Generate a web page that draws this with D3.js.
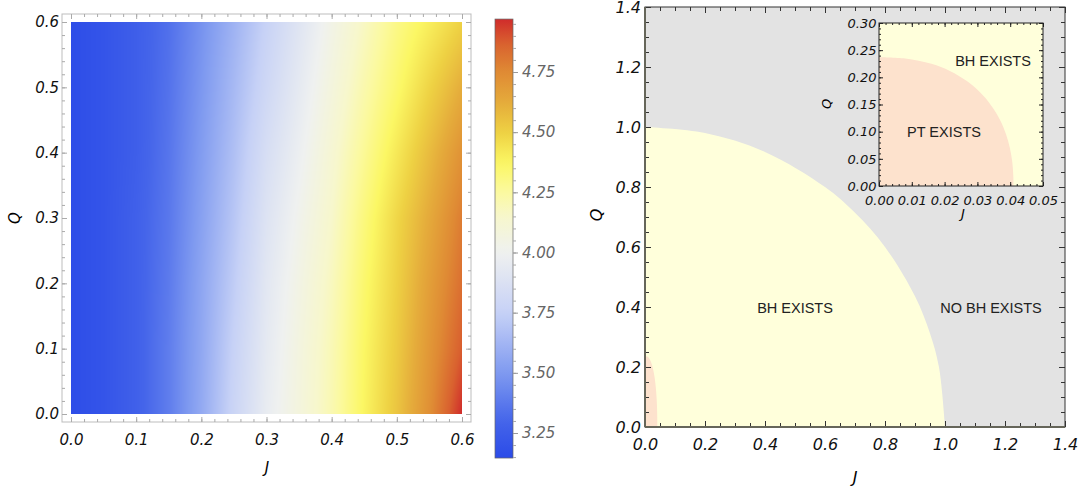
<!DOCTYPE html>
<meta charset="utf-8">
<html>
<head>
<style>
body {
  margin: 0;
  background: #fff;
}
text {
  font-family: "Liberation Sans", Arial, Helvetica, sans-serif;
}
.tick text, .axlab {
  font-family: "DejaVu Sans", sans-serif;
  font-style: oblique;
}
</style>
</head>
<body>
<div id="chart"></div>
<script src="https://d3js.org/d3.v7.min.js"></script>
<script>

// ---- data ----

// left density plot: grid of J columns and Q rows
var jGrid = [0, 0.05, 0.1, 0.15, 0.2, 0.25, 0.3, 0.35, 0.4, 0.45, 0.5, 0.55, 0.6];
var qGrid = [0, 0.1, 0.2, 0.3, 0.4, 0.5, 0.6];
var zQ00 = [3.16, 3.20, 3.27, 3.39, 3.57, 3.78, 3.96, 4.08, 4.21, 4.38, 4.54, 4.73, 4.97];
var zQ01 = [3.16, 3.20, 3.27, 3.39, 3.56, 3.76, 3.94, 4.07, 4.20, 4.37, 4.52, 4.70, 4.88];
var zQ02 = [3.16, 3.20, 3.27, 3.38, 3.55, 3.73, 3.92, 4.05, 4.18, 4.35, 4.50, 4.67, 4.83];
var zQ03 = [3.16, 3.20, 3.27, 3.37, 3.53, 3.70, 3.89, 4.02, 4.15, 4.32, 4.48, 4.63, 4.79];
var zQ04 = [3.16, 3.20, 3.26, 3.36, 3.51, 3.67, 3.85, 3.98, 4.12, 4.27, 4.42, 4.57, 4.72];
var zQ05 = [3.16, 3.20, 3.26, 3.35, 3.49, 3.64, 3.80, 3.94, 4.08, 4.22, 4.35, 4.49, 4.62];
var zQ06 = [3.16, 3.20, 3.26, 3.34, 3.47, 3.61, 3.76, 3.90, 4.04, 4.17, 4.30, 4.40, 4.50];
var zRows = [zQ00, zQ01, zQ02, zQ03, zQ04, zQ05, zQ06];

// colour bar range and labels
var zMin = 3.146, zMax = 4.97;
var cbarTicks = [3.25, 3.5, 3.75, 4.0, 4.25, 4.5, 4.75];

// temperature-map palette
var paletteVals = [3.146, 3.3, 3.5, 3.75, 4.0, 4.15, 4.25, 4.37, 4.5, 4.62, 4.75, 4.87, 4.97];
var paletteCols = ["#2b4be8", "#4565ea", "#7f9af0", "#c6d1f6", "#eff1f0", "#f7f7cc", "#fbf9a0",
                   "#fbf764", "#eed143", "#e5ac3b", "#df8a34", "#d9612f", "#d02b2b"];

// right region plot: boundaries
var bhJ = [0, 0.2, 0.4, 0.6, 0.7, 0.8, 0.9, 0.95, 0.98, 1.0];
var bhQ = [1.0, 0.98, 0.917, 0.8, 0.714, 0.6, 0.436, 0.312, 0.199, 0];
var ptJ = [0, 0.008, 0.016, 0.0216, 0.027, 0.0318, 0.0348, 0.0369, 0.0387, 0.0399, 0.0406, 0.04095, 0.041];
var ptQ = [0.237, 0.2346, 0.2248, 0.2117, 0.1922, 0.1663, 0.1432, 0.1215, 0.0958, 0.070, 0.0454, 0.0184, 0];

// tick labels
var leftTicks = [0, 0.1, 0.2, 0.3, 0.4, 0.5, 0.6];
var mainTicks = [0, 0.2, 0.4, 0.6, 0.8, 1.0, 1.2, 1.4];
var insetJTicks = [0, 0.01, 0.02, 0.03, 0.04, 0.05];
var insetQTicks = [0, 0.05, 0.1, 0.15, 0.2, 0.25, 0.3];

// ---- svg ----
var svg = d3.select("#chart").append("svg")
    .attr("width", 1087)
    .attr("height", 490);

function minorRange(a, b, step) {
  return d3.range(a, b + step / 2, step).map(function(d) { return +d.toFixed(4); });
}

// draws inward ticks on one side, returns the group holding the labels
function ticks(axisFn, scale, pos, majors, minors, majLen, minLen, color, fmt, pad) {
  var g = svg.append("g").attr("transform", pos);
  g.call(axisFn(scale).tickValues(minors).tickSize(-minLen).tickFormat(""));
  g.select(".domain").remove();
  var g2 = svg.append("g").attr("transform", pos);
  g2.call(axisFn(scale).tickValues(majors).tickSize(-majLen)
      .tickPadding(pad || 3).tickFormat(fmt || ""));
  g2.select(".domain").remove();
  g.selectAll(".tick line").attr("stroke", color);
  g2.selectAll(".tick line").attr("stroke", color);
  return g2;
}

// ===== left density plot =====
var xL = d3.scaleLinear().domain([0, 0.6]).range([71, 462]);
var yL = d3.scaleLinear().domain([0, 0.6]).range([414, 22]);

var color = d3.scaleLinear().domain(paletteVals).range(paletteCols)
    .interpolate(d3.interpolateRgb).clamp(true);

function zAt(j, q) {
  var i = Math.max(0, Math.min(jGrid.length - 2, d3.bisectRight(jGrid, j) - 1));
  var k = Math.max(0, Math.min(qGrid.length - 2, d3.bisectRight(qGrid, q) - 1));
  var tj = (j - jGrid[i]) / (jGrid[i + 1] - jGrid[i]);
  var tq = (q - qGrid[k]) / (qGrid[k + 1] - qGrid[k]);
  var a = zRows[k][i] * (1 - tj) + zRows[k][i + 1] * tj;
  var b = zRows[k + 1][i] * (1 - tj) + zRows[k + 1][i + 1] * tj;
  return a * (1 - tq) + b * tq;
}

var cw = Math.round(xL(0.6) - xL(0)), ch = Math.round(yL(0) - yL(0.6));
var canvas = document.createElement("canvas");
canvas.width = cw; canvas.height = ch;
var ctx = canvas.getContext("2d");
var img = ctx.createImageData(cw, ch);
for (var py = 0; py < ch; py++) {
  var q = yL.invert(yL(0.6) + py + 0.5);
  for (var px = 0; px < cw; px++) {
    var j = xL.invert(xL(0) + px + 0.5);
    var c = d3.rgb(color(zAt(j, q)));
    var o = (py * cw + px) * 4;
    img.data[o] = c.r; img.data[o + 1] = c.g; img.data[o + 2] = c.b; img.data[o + 3] = 255;
  }
}
ctx.putImageData(img, 0, 0);

svg.append("image")
    .attr("x", xL(0)).attr("y", yL(0.6))
    .attr("width", cw).attr("height", ch)
    .attr("preserveAspectRatio", "none")
    .attr("href", canvas.toDataURL());

// frame
svg.append("rect")
    .attr("x", 62).attr("y", 14).attr("width", 409).attr("height", 408)
    .attr("fill", "none").attr("stroke", "#bdbdbd").attr("stroke-width", 1);

var fmt1 = d3.format(".1f");
var leftMinor = minorRange(0, 0.6, 0.02);
var lb = ticks(d3.axisBottom, xL, "translate(0,422)", leftTicks, leftMinor, 5, 3, "#aaa", fmt1, 12);
ticks(d3.axisTop, xL, "translate(0,14)", leftTicks, leftMinor, 5, 3, "#aaa");
var ll = ticks(d3.axisLeft, yL, "translate(62,0)", leftTicks, leftMinor, 5, 3, "#aaa", fmt1, 3);
ticks(d3.axisRight, yL, "translate(471,0)", leftTicks, leftMinor, 5, 3, "#aaa");
lb.selectAll("text").attr("fill", "#111").style("font-size", "15px");
ll.selectAll("text").attr("fill", "#111").style("font-size", "15px");

svg.append("text").attr("class", "axlab").attr("x", 267).attr("y", 473)
    .attr("text-anchor", "middle").style("font-size", "15px")
    .text("J");
svg.append("text").attr("class", "axlab").attr("transform", "translate(20,218) rotate(-90)")
    .attr("text-anchor", "middle").style("font-size", "15px")
    .text("Q");

// ===== colour bar =====
var yC = d3.scaleLinear().domain([3.25, 4.75]).range([433, 72]);
var grad = svg.append("defs").append("linearGradient")
    .attr("id", "cbar").attr("x1", 0).attr("y1", 1).attr("x2", 0).attr("y2", 0);
grad.selectAll("stop")
    .data(d3.range(0, 1.0001, 0.02))
    .enter().append("stop")
    .attr("offset", function(d) { return d; })
    .attr("stop-color", function(d) { return color(zMin + d * (zMax - zMin)); });

svg.append("rect")
    .attr("x", 495).attr("y", yC(zMax))
    .attr("width", 18).attr("height", yC(zMin) - yC(zMax))
    .attr("fill", "url(#cbar)").attr("stroke", "#666").attr("stroke-width", 0.7);

var gc = svg.append("g").attr("transform", "translate(513,0)");
gc.call(d3.axisRight(yC).tickValues(minorRange(3.15, 4.95, 0.05)).tickSize(3).tickFormat(""));
gc.select(".domain").remove();
var gc2 = svg.append("g").attr("transform", "translate(513,0)");
gc2.call(d3.axisRight(yC).tickValues(cbarTicks).tickSize(5).tickPadding(4).tickFormat(d3.format(".2f")));
gc2.select(".domain").remove();
gc.selectAll("line").attr("stroke", "#aaa");
gc2.selectAll("line").attr("stroke", "#999");
gc2.selectAll("text").attr("fill", "#666").style("font-size", "15px");

// ===== right region plot =====
var xR = d3.scaleLinear().domain([0, 1.4]).range([645, 1065]);
var yR = d3.scaleLinear().domain([0, 1.4]).range([427, 7]);

svg.append("rect")
    .attr("x", xR(0)).attr("y", yR(1.4))
    .attr("width", xR(1.4) - xR(0)).attr("height", yR(0) - yR(1.4))
    .attr("fill", "#e3e3e3");

function regionPath(xs, ys, js, qs) {
  var pts = js.map(function(d, i) { return [xs(d), ys(qs[i])]; });
  var line = d3.line().curve(d3.curveCatmullRom.alpha(0.5));
  return line(pts) + "L" + xs(0) + "," + ys(0) + "Z";
}

svg.append("path").attr("d", regionPath(xR, yR, bhJ, bhQ)).attr("fill", "#ffffdb");
svg.append("path").attr("d", regionPath(xR, yR, ptJ, ptQ)).attr("fill", "#fde2cd");

svg.append("text").attr("x", 795).attr("y", 313).attr("text-anchor", "middle")
    .attr("fill", "#222").style("font-size", "14.5px").text("BH EXISTS");
svg.append("text").attr("x", 991).attr("y", 313).attr("text-anchor", "middle")
    .attr("fill", "#222").style("font-size", "14.5px").text("NO BH EXISTS");

svg.append("rect")
    .attr("x", xR(0)).attr("y", yR(1.4))
    .attr("width", xR(1.4) - xR(0)).attr("height", yR(0) - yR(1.4))
    .attr("fill", "none").attr("stroke", "#333").attr("stroke-width", 1);

var mainMinor = minorRange(0, 1.4, 0.05);
var rb = ticks(d3.axisBottom, xR, "translate(0,427)", mainTicks, mainMinor, 6, 4, "#333", fmt1, 12);
ticks(d3.axisTop, xR, "translate(0,7)", mainTicks, mainMinor, 6, 4, "#333");
var rl = ticks(d3.axisLeft, yR, "translate(645,0)", mainTicks, mainMinor, 6, 4, "#333", fmt1, 4);
ticks(d3.axisRight, yR, "translate(1065,0)", mainTicks, mainMinor, 6, 4, "#333");
rb.selectAll("text").attr("fill", "#111").style("font-size", "16px");
rl.selectAll("text").attr("fill", "#111").style("font-size", "16px");

svg.append("line").attr("x1", xR(0)).attr("x2", xR(0)).attr("y1", yR(1.4)).attr("y2", yR(0))
    .attr("stroke", "#66665a").attr("stroke-width", 2);
svg.append("line").attr("x1", xR(0)).attr("x2", xR(1.4)).attr("y1", yR(0)).attr("y2", yR(0))
    .attr("stroke", "#66665a").attr("stroke-width", 2);

svg.append("text").attr("class", "axlab").attr("x", 855).attr("y", 483)
    .attr("text-anchor", "middle").style("font-size", "16px")
    .text("J");
svg.append("text").attr("class", "axlab").attr("transform", "translate(602,215) rotate(-90)")
    .attr("text-anchor", "middle").style("font-size", "16px")
    .text("Q");

// ===== inset =====
var xI = d3.scaleLinear().domain([0, 0.05]).range([879, 1043]);
var yI = d3.scaleLinear().domain([0, 0.3]).range([186, 23]);

svg.append("rect")
    .attr("x", xI(0)).attr("y", yI(0.3))
    .attr("width", xI(0.05) - xI(0)).attr("height", yI(0) - yI(0.3))
    .attr("fill", "#ffffdb");
svg.append("path").attr("d", regionPath(xI, yI, ptJ, ptQ)).attr("fill", "#fde2cd");

svg.append("text").attr("x", 993).attr("y", 66).attr("text-anchor", "middle")
    .attr("fill", "#222").style("font-size", "14.5px").text("BH EXISTS");
svg.append("text").attr("x", 944).attr("y", 137).attr("text-anchor", "middle")
    .attr("fill", "#222").style("font-size", "14.5px").text("PT EXISTS");

svg.append("rect")
    .attr("x", xI(0)).attr("y", yI(0.3))
    .attr("width", xI(0.05) - xI(0)).attr("height", yI(0) - yI(0.3))
    .attr("fill", "none").attr("stroke", "#222").attr("stroke-width", 1);

var fmt2 = d3.format(".2f");
var ib = ticks(d3.axisBottom, xI, "translate(0,186)", insetJTicks, minorRange(0, 0.05, 0.002), 4, 2, "#222", fmt2, 10);
ticks(d3.axisTop, xI, "translate(0,23)", insetJTicks, minorRange(0, 0.05, 0.002), 4, 2, "#222");
var il = ticks(d3.axisLeft, yI, "translate(879,0)", insetQTicks, minorRange(0, 0.3, 0.01), 4, 2, "#222", fmt2, 2.5);
ticks(d3.axisRight, yI, "translate(1043,0)", insetQTicks, minorRange(0, 0.3, 0.01), 4, 2, "#222");
ib.selectAll("text").attr("fill", "#111").style("font-size", "13px");
il.selectAll("text").attr("fill", "#111").style("font-size", "13px");

svg.append("text").attr("class", "axlab").attr("x", 963).attr("y", 218)
    .attr("text-anchor", "middle").style("font-size", "13px")
    .text("J");
svg.append("text").attr("class", "axlab").attr("transform", "translate(831,104) rotate(-90)")
    .attr("text-anchor", "middle").style("font-size", "13px")
    .text("Q");

</script>
</body>
</html>
